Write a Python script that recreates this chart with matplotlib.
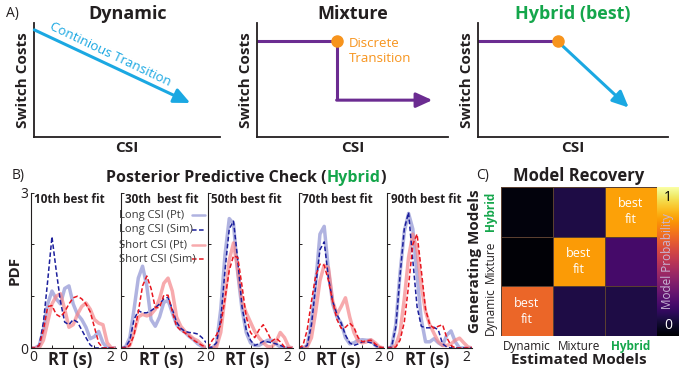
import matplotlib.pyplot as plt
import numpy as np

plt.rcParams['font.family'] = ['Open Sans', 'DejaVu Sans']

W, H = 685, 373

# colours
DARK = '#231f20'
GREEN = '#14a64b'
BLUE = '#1ba8e2'
PURPLE = '#6b2c91'
ORANGE = '#f7941d'

# ---- Panel A: schematic switch-cost curves (axes fraction units) ----
dynamic_x = [0.0, 0.84]
dynamic_y = [0.94, 0.30]
mixture_x = [0.0, 0.416, 0.416, 0.918]
mixture_y = [0.84, 0.84, 0.325, 0.325]
mixture_point = (0.416, 0.84)
hybrid_flat_x = [0.0, 0.418]
hybrid_flat_y = [0.84, 0.84]
hybrid_drop_x = [0.418, 0.793]
hybrid_drop_y = [0.84, 0.26]

# ---- Panel B: posterior predictive densities (RT grid 0..2 s) ----
rt = np.linspace(0, 2, 21)
fit_labels = ['10th best fit', '30th  best fit', '50th best fit', '70th best fit', '90th best fit']
legend_labels = ['Long CSI (Pt)', 'Long CSI (Sim)', 'Short CSI (Pt)', 'Short CSI (Sim)']

fit10_long_pt = [0, 0, 0.05, 0.35, 0.85, 1.1, 0.95, 0.85, 1.15, 1.2, 0.85, 0.65, 0.55, 0.4, 0.18, 0.22, 0.32, 0.1, 0, 0, 0]
fit10_long_sim = [0, 0, 0.05, 0.5, 1.3, 2.15, 1.5, 0.9, 0.5, 0.45, 0.55, 0.5, 0.35, 0.2, 0.06, 0, 0, 0, 0, 0, 0]
fit10_short_pt = [0, 0, 0, 0.15, 0.5, 0.85, 1.0, 1.05, 0.75, 0.4, 0.45, 0.65, 0.8, 0.87, 0.75, 0.55, 0.48, 0.45, 0.1, 0, 0]
fit10_short_sim = [0, 0, 0.05, 0.35, 0.8, 0.82, 0.65, 0.6, 0.7, 0.85, 0.97, 1.0, 0.95, 0.85, 0.7, 0.4, 0.1, 0, 0, 0, 0]

fit30_long_pt = [0, 0.02, 0.2, 0.75, 1.35, 1.58, 1.2, 0.55, 0.42, 0.6, 0.88, 0.92, 0.68, 0.45, 0.36, 0.3, 0.22, 0.16, 0.08, 0.03, 0]
fit30_long_sim = [0, 0.02, 0.15, 0.55, 0.72, 0.68, 0.68, 0.72, 0.78, 0.85, 0.95, 0.98, 0.75, 0.5, 0.38, 0.32, 0.3, 0.29, 0.27, 0.2, 0.1]
fit30_short_pt = [0, 0, 0.05, 0.3, 0.6, 0.65, 0.62, 0.65, 0.75, 0.95, 1.25, 1.35, 1.1, 0.6, 0.42, 0.32, 0.25, 0.18, 0.14, 0.06, 0]
fit30_short_sim = [0, 0, 0.05, 0.25, 0.7, 1.2, 1.39, 1.15, 0.78, 0.78, 1.02, 1.02, 0.7, 0.42, 0.34, 0.29, 0.22, 0.15, 0.1, 0.05, 0.02]

fit50_long_pt = [0, 0, 0.08, 0.75, 1.8, 2.5, 2.4, 1.45, 0.75, 0.3, 0.1, 0.05, 0.05, 0.1, 0.15, 0.15, 0.08, 0.02, 0, 0, 0]
fit50_long_sim = [0, 0.02, 0.1, 0.55, 1.5, 2.3, 2.45, 1.7, 0.8, 0.35, 0.15, 0.05, 0.08, 0.13, 0.12, 0.1, 0.08, 0.05, 0.02, 0, 0]
fit50_short_pt = [0, 0, 0.02, 0.3, 1.0, 1.7, 2.03, 1.5, 0.9, 0.68, 0.5, 0.32, 0.2, 0.1, 0.03, 0.02, 0.12, 0.3, 0.2, 0.02, 0]
fit50_short_sim = [0, 0.15, 0.25, 0.45, 0.95, 1.5, 1.78, 1.75, 1.2, 0.6, 0.3, 0.2, 0.35, 0.45, 0.3, 0.13, 0.19, 0.12, 0.02, 0, 0]

fit70_long_pt = [0, 0, 0.05, 0.5, 1.25, 2.2, 2.35, 1.5, 0.85, 0.6, 0.48, 0.2, 0.08, 0.1, 0.15, 0.16, 0.15, 0.15, 0.05, 0, 0]
fit70_long_sim = [0, 0, 0.05, 0.45, 1.2, 1.9, 2.05, 1.35, 0.9, 0.65, 0.48, 0.25, 0.1, 0.05, 0.08, 0.12, 0.12, 0.1, 0.05, 0, 0]
fit70_short_pt = [0, 0, 0.02, 0.2, 0.7, 1.3, 1.6, 1.55, 0.9, 0.65, 0.8, 0.97, 0.6, 0.3, 0.13, 0.1, 0.12, 0.16, 0.1, 0.02, 0]
fit70_short_sim = [0, 0.05, 0.35, 0.9, 1.4, 1.62, 1.6, 1.3, 0.9, 0.55, 0.38, 0.4, 0.48, 0.4, 0.2, 0.12, 0.14, 0.15, 0.08, 0.02, 0]

fit90_long_pt = [0, 0.02, 0.45, 1.45, 2.25, 2.6, 2.3, 1.4, 0.55, 0.12, 0.12, 0.18, 0.1, 0.05, 0.25, 0.33, 0.12, 0, 0, 0, 0]
fit90_long_sim = [0, 0.02, 0.4, 1.4, 2.3, 2.62, 1.7, 0.8, 0.42, 0.39, 0.39, 0.4, 0.35, 0.08, 0.02, 0, 0, 0, 0, 0, 0]
fit90_short_pt = [0, 0, 0.05, 0.3, 0.95, 1.75, 2.2, 1.9, 1.2, 0.7, 0.45, 0.28, 0.12, 0.05, 0.05, 0.08, 0.15, 0.19, 0.1, 0.02, 0]
fit90_short_sim = [0, 0, 0.02, 0.15, 0.5, 1.2, 2.0, 2.2, 1.5, 0.75, 0.45, 0.38, 0.42, 0.45, 0.2, 0.05, 0, 0, 0, 0, 0]

# ---- Panel C: model recovery (rows = generating model, bottom to top) ----
models = ['Dynamic', 'Mixture', 'Hybrid']
recovery_prob = [
    [0.66, 0.12, 0.12],   # Dynamic
    [0.01, 0.78, 0.21],   # Mixture
    [0.02, 0.12, 0.79],   # Hybrid
]

fig = plt.figure(figsize=(6.85, 3.73), dpi=100)


def px_axes(l, t, r, b):
    return fig.add_axes([l / W, 1 - b / H, (r - l) / W, (b - t) / H])


def ftext(x, y, s, **kw):
    return fig.text(x / W, 1 - y / H, s, **kw)


def arrow(ax, x0, y0, x1, y1, color):
    ax.annotate('', xy=(x1, y1), xytext=(x0, y0),
                arrowprops=dict(arrowstyle='-|>,head_length=0.7,head_width=0.32',
                                color=color, lw=2.2, mutation_scale=14,
                                shrinkA=0, shrinkB=0))


# ---------------- Panel A ----------------
a_boxes = [(34.3, 23, 220, 137.3), (257.3, 23, 448, 137.3), (478.3, 23, 668, 137.3)]
a_titles = ['Dynamic', 'Mixture', 'Hybrid (best)']
a_axes = []
for (l, t, r, b), title in zip(a_boxes, a_titles):
    ax = px_axes(l, t, r, b)
    ax.set_xlim(0, 1)
    ax.set_ylim(0, 1)
    for s in ['top', 'right']:
        ax.spines[s].set_visible(False)
    for s in ['left', 'bottom']:
        ax.spines[s].set_linewidth(1.3)
        ax.spines[s].set_color(DARK)
    ax.set_xticks([])
    ax.set_yticks([])
    ax.set_ylabel('Switch Costs', fontsize=11, fontweight='bold', color=DARK, labelpad=3)
    ax.set_xlabel('CSI', fontsize=11, fontweight='bold', color=DARK, labelpad=3)
    ax.set_title(title, fontsize=13, fontweight='bold',
                 color=GREEN if 'Hybrid' in title else DARK, pad=3)
    a_axes.append(ax)

ftext(6, 14, 'A)', fontsize=10, color=DARK, va='center')

# Dynamic
ax = a_axes[0]
arrow(ax, dynamic_x[0], dynamic_y[0], dynamic_x[1], dynamic_y[1], BLUE)
ax.text(0.41, 0.725, 'Continious Transition', color=BLUE, fontsize=9.5,
        rotation=-25.5, rotation_mode='anchor', ha='center', va='center')

# Mixture
ax = a_axes[1]
ax.plot(mixture_x[:3], mixture_y[:3], color=PURPLE, lw=2.2, solid_capstyle='butt')
arrow(ax, mixture_x[2], mixture_y[2], mixture_x[3], mixture_y[3], PURPLE)
ax.plot(*mixture_point, 'o', color=ORANGE, ms=8, zorder=5)
ax.text(0.48, 0.755, 'Discrete\nTransition', color=ORANGE, fontsize=9.5,
        ha='left', va='center', linespacing=1.25)

# Hybrid
ax = a_axes[2]
ax.plot(hybrid_flat_x, hybrid_flat_y, color=PURPLE, lw=2.2)
arrow(ax, hybrid_drop_x[0], hybrid_drop_y[0], hybrid_drop_x[1], hybrid_drop_y[1], BLUE)
ax.plot(hybrid_drop_x[0], hybrid_drop_y[0], 'o', color=ORANGE, ms=8, zorder=5)

# ---------------- Panel B ----------------
b_lefts = [30.7, 121.3, 208, 298.7, 387.3]
b_width = 85
curve_sets = [
    (fit10_long_pt, fit10_long_sim, fit10_short_pt, fit10_short_sim),
    (fit30_long_pt, fit30_long_sim, fit30_short_pt, fit30_short_sim),
    (fit50_long_pt, fit50_long_sim, fit50_short_pt, fit50_short_sim),
    (fit70_long_pt, fit70_long_sim, fit70_short_pt, fit70_short_sim),
    (fit90_long_pt, fit90_long_sim, fit90_short_pt, fit90_short_sim),
]
styles = [
    dict(color='#8f93d4', lw=2.5, alpha=0.7, solid_capstyle='round'),   # long pt
    dict(color='#1c1f9c', lw=1.1, dashes=(3, 1.6)),                     # long sim
    dict(color='#f4868b', lw=2.5, alpha=0.7, solid_capstyle='round'),   # short pt
    dict(color='#e8161f', lw=1.1, dashes=(3, 1.6)),                     # short sim
]
draw_order = [0, 2, 1, 3]

for i, (l, label, curves) in enumerate(zip(b_lefts, fit_labels, curve_sets)):
    ax = px_axes(l, 192.7, l + b_width, 348)
    for k in draw_order:
        ax.plot(rt, curves[k], **styles[k])
    ax.set_xlim(0, 2)
    ax.set_ylim(0, 3)
    for s in ['top', 'right']:
        ax.spines[s].set_visible(False)
    for s in ['left', 'bottom']:
        ax.spines[s].set_linewidth(0.8)
        ax.spines[s].set_color(DARK)
    ax.set_xticks([0.5, 1, 1.5])
    ax.set_xticklabels([])
    ax.set_yticks([0, 1, 2, 3])
    ax.set_yticklabels(['0', '', '', '3'] if i == 0 else [])
    ax.tick_params(direction='in', length=2.5, width=0.7, labelsize=10,
                   pad=1.5, colors=DARK)
    xt = ax.get_xaxis_transform()
    ax.text(0.05, -0.06, '0', transform=xt, ha='center', va='center',
            fontsize=10, color=DARK)
    ax.text(1.87, -0.06, '2', transform=xt, ha='center', va='center',
            fontsize=10, color=DARK)
    ax.text(0.93, -0.077, 'RT (s)', transform=xt, ha='center', va='center',
            fontsize=12, fontweight='bold', color=DARK)
    ax.text(0.04, 0.955, label, transform=ax.transAxes, ha='left', va='center',
            fontsize=8.5, fontweight='bold', color=DARK)
    if i == 1:
        for k, (lab, yy) in enumerate(zip(legend_labels, [0.855, 0.76, 0.665, 0.57])):
            ax.text(-0.03, yy, lab, transform=ax.transAxes, ha='left', va='center',
                    fontsize=8.1, color='#3a3a3a')
            ax.plot([0.83, 0.98], [yy, yy], transform=ax.transAxes, clip_on=False,
                    **{**styles[k], 'lw': min(styles[k]['lw'], 1.8)})

ftext(15, 270, 'PDF', rotation=90, fontsize=11, fontweight='bold', color=DARK,
      ha='center', va='center')
ftext(12, 176, 'B)', fontsize=10, color=DARK, va='center')

# multi-colour title
fig.canvas.draw()
renderer = fig.canvas.get_renderer()
parts = [('Posterior Predictive Check (', DARK), ('Hybrid', GREEN), (')', DARK)]
x_cursor = 106
for txt, col in parts:
    t = ftext(x_cursor, 178, txt, fontsize=11.5, fontweight='bold', color=col,
              ha='left', va='center')
    x_cursor = t.get_window_extent(renderer).x1

# ---------------- Panel C ----------------
axc = px_axes(501, 187, 657, 336)
axc.pcolormesh(np.array(recovery_prob), cmap='inferno', vmin=0, vmax=1,
               edgecolors='#5a3f30', linewidth=0.5)
axc.set_xlim(0, 3)
axc.set_ylim(0, 3)
for k in range(3):
    axc.text(k + 0.5, k + 0.5, 'best\nfit', color='white', fontsize=9,
             ha='center', va='center', linespacing=1.3)
for s in axc.spines.values():
    s.set_visible(False)
axc.set_xticks([0.5, 1.5, 2.5])
axc.set_xticklabels(models)
axc.set_yticks([0.5, 1.5, 2.5])
axc.set_yticklabels(models, rotation=90, va='center')
axc.tick_params(length=0, labelsize=8.5, colors=DARK, pad=3)
for lab in [axc.get_xticklabels()[2], axc.get_yticklabels()[2]]:
    lab.set_color(GREEN)
    lab.set_fontweight('bold')
axc.set_xlabel('Estimated Models', fontsize=11, fontweight='bold', color=DARK, labelpad=0)
axc.set_ylabel('Generating Models', fontsize=11, fontweight='bold', color=DARK, labelpad=1)
axc.set_title('Model Recovery', fontsize=12, fontweight='bold', color=DARK, pad=4)
ftext(476, 176, 'C)', fontsize=10, color=DARK, va='center')

# colour bar
axcb = px_axes(657, 187, 679, 336)
axcb.imshow(np.linspace(0, 1, 256)[:, None], aspect='auto', cmap='inferno',
            origin='lower', extent=[0, 1, 0, 1])
axcb.set_axis_off()
axcb.text(0.5, 0.93, '1', color='black', fontsize=10, ha='center', va='center',
          transform=axcb.transAxes)
axcb.text(0.5, 0.07, '0', color='white', fontsize=10, ha='center', va='center',
          transform=axcb.transAxes)
axcb.text(0.5, 0.5, 'Model Probability', color='#c8b6d6', fontsize=8.5,
          rotation=90, ha='center', va='center', transform=axcb.transAxes)

fig.savefig('out.png', dpi=100)
